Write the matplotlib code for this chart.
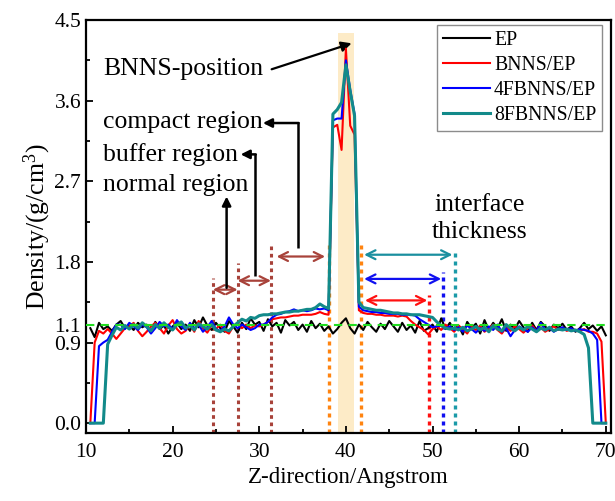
import numpy as np
import matplotlib
matplotlib.use("Agg")
import matplotlib.pyplot as plt
from matplotlib.ticker import FixedLocator, MultipleLocator

plt.rcParams['font.family'] = ['Liberation Serif', 'DejaVu Serif']
plt.rcParams['mathtext.fontset'] = 'custom'
plt.rcParams['mathtext.rm'] = 'Liberation Serif'
plt.rcParams['mathtext.it'] = 'Liberation Serif:italic'

# ---------------- data ----------------
z = np.arange(10.5, 70.01, 0.5)

ep = [
    1.06, 0.96, 1.12, 1.05, 1.08, 1.03, 1.10, 1.14, 1.06, 1.09,
    1.04, 1.12, 1.07, 1.10, 1.02, 1.13, 1.05, 1.09, 1.00, 1.08,
    1.12, 1.05, 1.10, 1.03, 1.15, 1.07, 1.18, 1.09, 1.04, 1.12,
    1.06, 1.02, 1.14, 1.08, 1.01, 1.12, 1.05, 1.17, 1.10, 1.13,
    1.03, 1.16, 1.08, 1.12, 1.01, 1.15, 1.09, 1.13, 1.04, 1.10,
    1.02, 1.14, 1.06, 1.11, 1.03, 1.08, 1.00, 1.05, 1.12, 1.17,
    1.06, 1.00, 1.10, 1.04, 1.13, 1.07, 1.02, 1.11, 1.05, 1.14,
    1.08, 1.02, 1.12, 1.04, 1.09, 1.01, 1.14, 1.03, 1.06, 1.10,
    1.02, 1.17, 1.05, 1.12, 1.03, 1.09, 0.99, 1.13, 1.06, 1.11,
    1.00, 1.15, 1.04, 1.12, 1.06, 1.16, 1.03, 1.10, 1.05, 1.14,
    1.07, 1.02, 1.12, 1.04, 1.13, 1.08, 1.03, 1.10, 1.06, 1.11,
    1.04, 1.08, 1.02, 1.06, 1.12, 1.05, 1.09, 1.03, 1.08, 0.98]

bnns = [
    0.00, 0.90, 1.03, 1.00, 1.05, 1.00, 0.94, 1.00, 1.06, 1.08,
    1.12, 1.03, 0.97, 1.02, 1.08, 1.12, 1.06, 1.00, 1.09, 1.15,
    1.05, 1.00, 1.03, 1.10, 1.02, 1.14, 1.06, 1.01, 1.09, 1.05,
    1.10, 1.03, 1.00, 1.08, 1.12, 1.06, 1.10, 1.06, 1.09, 1.08,
    1.10, 1.13, 1.16, 1.17, 1.18, 1.18, 1.19, 1.20, 1.20, 1.21,
    1.21, 1.21, 1.22, 1.24, 1.22, 1.21, 3.30, 3.33, 3.05, 4.18,
    3.32, 3.22, 1.26, 1.23, 1.22, 1.22, 1.21, 1.21, 1.20, 1.20,
    1.20, 1.19, 1.20, 1.19, 1.14, 1.10, 1.07, 1.04, 0.99, 1.05,
    1.08, 1.04, 1.10, 1.06, 1.02, 1.09, 1.05, 1.00, 1.08, 1.04,
    1.09, 1.02, 1.06, 1.10, 1.04, 1.00, 1.07, 1.03, 1.08, 1.05,
    1.01, 1.06, 1.09, 1.03, 1.07, 1.02, 1.05, 1.08, 1.04, 1.06,
    1.03, 1.05, 1.04, 1.03, 1.05, 1.02, 1.02, 1.00, 0.91, 0.00]

fbnns4 = [
    0.00, 0.00, 0.86, 0.90, 0.93, 1.02, 1.10, 1.10, 1.05, 1.12,
    1.08, 1.04, 1.10, 1.07, 1.00, 1.06, 1.13, 1.08, 1.10, 1.05,
    1.15, 1.08, 1.04, 1.12, 1.06, 1.10, 1.02, 1.07, 1.14, 1.05,
    1.03, 1.08, 1.18, 1.10, 1.06, 1.10, 1.07, 1.04, 1.06, 1.10,
    1.10, 1.13, 1.18, 1.21, 1.22, 1.24, 1.25, 1.27, 1.25, 1.26,
    1.25, 1.26, 1.28, 1.27, 1.28, 1.26, 3.38, 3.40, 3.40, 4.05,
    3.72, 3.45, 1.30, 1.26, 1.25, 1.24, 1.24, 1.23, 1.23, 1.22,
    1.22, 1.22, 1.21, 1.21, 1.21, 1.20, 1.16, 1.13, 1.10, 1.07,
    1.08, 1.09, 1.06, 1.08, 1.04, 1.07, 1.02, 1.09, 1.05, 1.01,
    1.06, 1.03, 1.08, 1.04, 1.10, 1.02, 1.06, 0.97, 1.04, 1.08,
    1.05, 1.02, 1.07, 1.03, 1.12, 1.04, 1.06, 1.02, 1.05, 1.07,
    1.04, 1.06, 1.03, 1.05, 1.04, 1.03, 1.00, 0.93, 0.00, 0.00]

fbnns8 = [
    0.00, 0.00, 0.00, 0.00, 0.88, 0.98, 1.07, 1.04, 1.09, 1.05,
    1.10, 1.06, 1.12, 1.08, 1.03, 1.10, 1.06, 1.12, 1.07, 1.04,
    1.10, 1.13, 1.06, 1.09, 1.04, 1.11, 1.08, 1.05, 1.10, 1.04,
    1.02, 1.05, 1.03, 1.08, 1.12, 1.16, 1.14, 1.18, 1.17, 1.20,
    1.21, 1.21, 1.22, 1.22, 1.23, 1.24, 1.24, 1.25, 1.25, 1.26,
    1.27, 1.27, 1.29, 1.33, 1.30, 1.28, 3.45, 3.50, 3.58, 4.00,
    3.70, 3.43, 1.35, 1.29, 1.28, 1.27, 1.26, 1.26, 1.25, 1.24,
    1.23, 1.23, 1.22, 1.22, 1.21, 1.21, 1.21, 1.20, 1.19, 1.18,
    1.13, 1.09, 1.06, 1.05, 1.06, 1.04, 1.07, 1.03, 1.05, 1.08,
    1.04, 1.07, 1.02, 1.09, 1.05, 1.03, 1.10, 1.06, 1.03, 1.07,
    1.04, 1.08, 1.05, 1.02, 1.06, 1.04, 1.07, 1.03, 1.05, 1.04,
    1.05, 1.03, 1.04, 1.02, 0.99, 0.84, 0.00, 0.00, 0.00, 0.00]

series_labels = ['EP', 'BNNS/EP', '4FBNNS/EP', '8FBNNS/EP']
yticks = [0.0, 0.9, 1.1, 1.8, 2.7, 3.6, 4.5]
ytick_labels = ['0.0', '0.9', '1.1', '1.8', '2.7', '3.6', '4.5']
xticks = [10, 20, 30, 40, 50, 60, 70]

# annotation geometry (data units)
bnns_band = (39.1, 40.9, 4.36)
brown_lines = [(24.65, 1.62), (27.5, 1.79), (31.35, 2.01)]
orange_lines = [(38.0, 2.01), (41.8, 1.99)]
interface_lines = [(49.56, 1.43, '#FF1010'), (51.2, 1.69, '#1010F0'), (52.56, 1.92, '#1A9AA8')]
brown_arrows = [(24.65, 27.5, 1.49), (27.5, 31.35, 1.59), (32.0, 37.6, 1.86)]
interface_arrows = [(42.1, 52.3, 1.88, '#1A8F9F'), (42.1, 51.0, 1.61, '#1010F0'), (42.2, 49.4, 1.37, '#FF1010')]

# ---------------- figure ----------------
fig = plt.figure(figsize=(6.15, 5.01), dpi=100)
ax = fig.add_axes([86 / 615, 68 / 501, 525 / 615, 413 / 501])
ymin, ymax = -0.11, 4.5
ax.set_xlim(10, 70.6)
ax.set_ylim(ymin, ymax)

ax.fill_between([bnns_band[0], bnns_band[1]], ymin, bnns_band[2],
                color='#FDEBC7', lw=0, zorder=0)

ax.plot(z, ep, color='black', lw=1.5, label=series_labels[0], zorder=3)
ax.plot(z, bnns, color='#FF0000', lw=1.5, label=series_labels[1], zorder=4)
ax.plot(z, fbnns4, color='#0000FF', lw=1.5, label=series_labels[2], zorder=5)
ax.plot(z, fbnns8, color='#128A8A', lw=2.2, label=series_labels[3], zorder=6)
ax.plot([10, 70], [1.1, 1.1], color='#22DD22', lw=1.5, ls=(0, (4, 3)), zorder=7)

dot = (0, (1.2, 1.2))
for x, top in brown_lines:
    ax.plot([x, x], [ymin, top], color='#A8423A', lw=2.2, ls=dot, zorder=2)
for x, top in orange_lines:
    ax.plot([x, x], [ymin, top], color='#FF8410', lw=2.4, ls=dot, zorder=2)
for x, top, c in interface_lines:
    ax.plot([x, x], [ymin, top], color=c, lw=2.4, ls=dot, zorder=2)

for x1, x2, y in brown_arrows:
    ax.annotate('', xy=(x2, y), xytext=(x1, y),
                arrowprops=dict(arrowstyle='<->', color='#A8423A', lw=1.6,
                                shrinkA=0, shrinkB=0, mutation_scale=16))
for x1, x2, y, c in interface_arrows:
    ax.annotate('', xy=(x2, y), xytext=(x1, y),
                arrowprops=dict(arrowstyle='<->', color=c, lw=1.6,
                                shrinkA=0, shrinkB=0, mutation_scale=16))

# black pointer arrows
tfs = 18.5
ax.text(11.95, 3.95, 'BNNS-position', fontsize=tfs, va='center', ha='left')
ax.annotate('', xy=(40.66, 4.24), xytext=(31.43, 3.95),
            arrowprops=dict(arrowstyle='-|>', color='black', lw=1.6,
                            shrinkA=0, shrinkB=0, mutation_scale=15))
ax.text(11.95, 3.36, 'compact region', fontsize=tfs, va='center', ha='left')
ax.text(11.95, 3.00, 'buffer region', fontsize=tfs, va='center', ha='left')
ax.text(11.95, 2.66, 'normal region', fontsize=tfs, va='center', ha='left')

def elbow(xv, y0, y1, xtip):
    ax.plot([xv, xv], [y0, y1], color='black', lw=1.8, solid_capstyle='butt')
    ax.annotate('', xy=(xtip, y1), xytext=(xv + 0.1, y1),
                arrowprops=dict(arrowstyle='-|>', color='black', lw=1.8,
                                shrinkA=0, shrinkB=0, mutation_scale=13))

elbow(34.46, 1.96, 3.35, 30.42)
elbow(29.5, 1.64, 3.00, 27.85)
ax.annotate('', xy=(26.23, 2.53), xytext=(26.23, 1.51),
            arrowprops=dict(arrowstyle='-|>', color='black', lw=1.8,
                            shrinkA=0, shrinkB=0, mutation_scale=13))

ax.text(55.46, 2.44, 'interface', fontsize=tfs, va='center', ha='center')
ax.text(55.46, 2.13, 'thickness', fontsize=tfs, va='center', ha='center')

# axes styling
ax.yaxis.set_major_locator(FixedLocator(yticks))
ax.set_yticklabels(ytick_labels)
ax.yaxis.set_minor_locator(FixedLocator([0.45, 1.35, 2.25, 3.15, 4.05]))
ax.xaxis.set_major_locator(FixedLocator(xticks))
ax.xaxis.set_minor_locator(MultipleLocator(5))
ax.tick_params(which='both', direction='in', top=False, right=False,
               labelsize=15.5, width=1.3)
ax.tick_params(which='major', length=5)
ax.tick_params(which='minor', length=3)
ax.tick_params(axis='x', pad=7)
for s in ax.spines.values():
    s.set_linewidth(1.6)

ax.set_xlabel('Z-direction/Angstrom', fontsize=16.5, labelpad=4)
ax.set_ylabel('Density/(g/cm$^3$)', fontsize=18.5, labelpad=1)

leg = ax.legend(loc='upper right', bbox_to_anchor=(0.983, 0.988),
                borderaxespad=0, fontsize=14.2, frameon=True, fancybox=False,
                edgecolor='#707070', handlelength=2.4, handletextpad=0.2,
                labelspacing=0.3, borderpad=0.3)
leg.get_frame().set_linewidth(1.0)

fig.savefig('out.png', dpi=100)
